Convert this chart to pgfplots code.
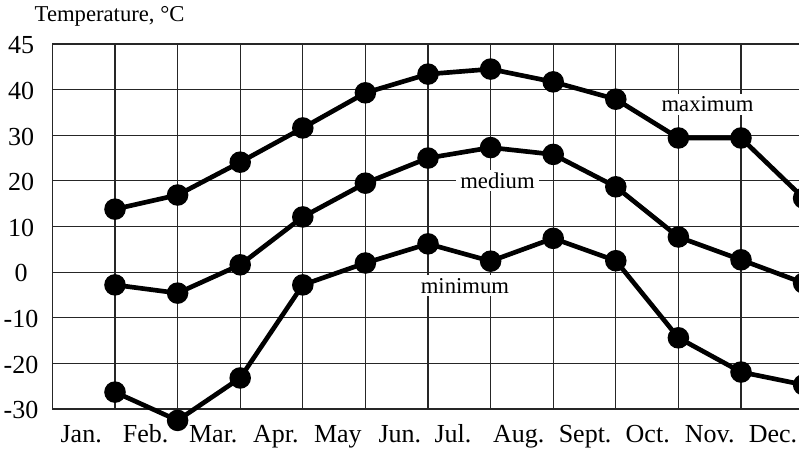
\documentclass[border=0pt]{standalone}
\usepackage{pgfplots}
\pgfplotsset{compat=1.18}
\usepackage{fontspec}
\setmainfont{Liberation Serif}
\begin{document}
\begin{tikzpicture}[font=\fontsize{17}{20}\selectfont]
\useasboundingbox (-39.3pt,-32.25pt) rectangle (559.95pt,306.75pt);
\clip (-39.3pt,-32.25pt) rectangle (559.95pt,306.75pt);
\begin{axis}[
  scale only axis,
  width=563.4pt, height=273.75pt,
  xmin=0, xmax=12, ymin=-30, ymax=50,
  clip=false,
  axis line style={black!85, line width=0.9pt},
  grid style={black!85, line width=0.9pt},
  xmajorgrids, ymajorgrids,
  major tick length=0pt,
  tick style={draw=none},
  tick label style={font=\fontsize{19.5}{22}\selectfont},
  xtick={1,...,11}, xticklabels={},
  extra x ticks={0.46,1.49,2.57,3.57,4.56,5.55,6.40,7.45,8.51,9.51,10.50,11.51},
  extra x tick labels={Jan.,Feb.,Mar.,Apr.,May,Jun.,Jul.,Aug.,Sept.,Oct.,Nov.,Dec.},
  extra x tick style={grid=none, xticklabel style={anchor=base, yshift=-25.5pt}},
  ytick={-30,-20,-10,0,10,20,30,40,50},
  yticklabels={-30,-20,-10,0,10,20,30,40,45},
  yticklabel style={anchor=center, xshift=-23.5pt, yshift=-1pt},
]
\addplot[black, line width=3.5pt, mark=*, mark size=6.3pt] coordinates {
 (1,13.8) (2,16.9) (3,24.1) (4,31.6) (5,39.3) (6,43.4) (7,44.5) (8,41.7) (9,37.9) (10,29.4) (11,29.4) (12,16.2)};
\addplot[black, line width=3.5pt, mark=*, mark size=6.3pt] coordinates {
 (1,-2.8) (2,-4.6) (3,1.6) (4,12.1) (5,19.5) (6,25.0) (7,27.3) (8,25.8) (9,18.7) (10,7.7) (11,2.7) (12,-2.4)};
\addplot[black, line width=3.5pt, mark=*, mark size=6.3pt] coordinates {
 (1,-26.3) (2,-32.5) (3,-23.2) (4,-2.8) (5,2.0) (6,6.2) (7,2.4) (8,7.4) (9,2.5) (10,-14.4) (11,-21.9) (12,-24.7)};
\node[anchor=base, fill=white, inner xsep=3pt, inner ysep=2pt] at (axis cs:10.465,35.1) {maximum};
\node[anchor=base, fill=white, inner xsep=3pt, inner ysep=2pt] at (axis cs:7.11,18.4) {medium};
\node[anchor=base, fill=white, inner xsep=3pt, inner ysep=2pt] at (axis cs:6.59,-4.6) {minimum};
\node[anchor=base west] at (rel axis cs:-0.0298,1.0603) {Temperature, °C};
\end{axis}
\end{tikzpicture}
\end{document}
